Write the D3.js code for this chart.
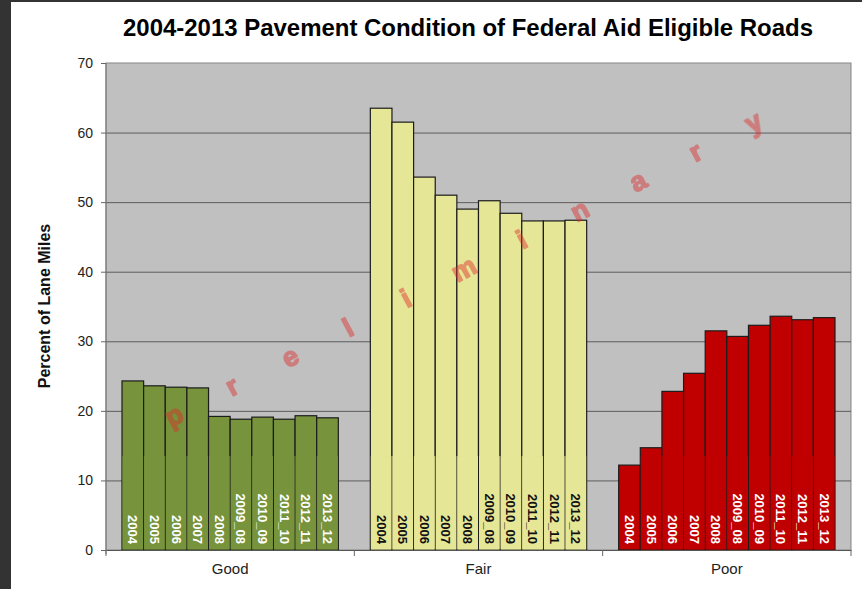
<!DOCTYPE html>
<html lang="en">
<head>
    <meta charset="UTF-8">
    <title>Pavement Condition</title>
    <script src="https://cdn.jsdelivr.net/npm/d3@7"></script>
    <style>
        body { margin:0; background:#fff; }
        text { font-family: Arial, "Liberation Sans", sans-serif; }
    </style>
</head>
<body>
<div id="grafica"></div>
<script>
// data
categorias=['Good','Fair','Poor']
anios=['2004','2005','2006','2007','2008','2009_08','2010_09','2011_10','2012_11','2013_12']
good=[24.3,23.6,23.4,23.3,19.2,18.8,19.1,18.8,19.3,19.0]
fair=[63.5,61.5,53.6,51.0,49.0,50.2,48.4,47.3,47.3,47.4]
poor=[12.2,14.7,22.8,25.4,31.5,30.7,32.3,33.6,33.1,33.4]
yTicks=[0,10,20,30,40,50,60,70]
marca='preliminary'

colores={Good:'#77933c',Fair:'#e6e697',Poor:'#c00000'}
colorTexto={Good:'#fff',Fair:'#111',Poor:'#fff'}

ancho=862
alto=589
svg=d3.select('#grafica')
	.append('svg')
	.attr('width',ancho)
	.attr('height',alto)

// dark frame bits
svg.append('rect').attr('x',0).attr('y',0).attr('width',11).attr('height',alto).attr('fill','#333')
svg.append('rect').attr('x',0).attr('y',0).attr('width',ancho).attr('height',2).attr('fill','#333')

izq=106; der=851; arriba=63; abajo=550

x0=d3.scaleBand().domain(categorias).range([izq,der]).padding(0)
x1=d3.scaleBand().domain(anios).range([16,x0.bandwidth()-16]).padding(0)
y=d3.scaleLinear().domain([0,70]).range([abajo,arriba])

// plot background
svg.append('rect')
	.attr('x',izq).attr('y',arriba)
	.attr('width',der-izq).attr('height',abajo-arriba)
	.attr('fill','#c0c0c0')
	.attr('stroke','#858585')

// gridlines
svg.append('g')
	.attr('transform','translate('+izq+',0)')
	.call(d3.axisLeft(y).tickValues(yTicks.slice(1,-1)).tickSize(-(der-izq)).tickFormat(''))
	.call(function(g){
		g.select('.domain').remove()
		g.selectAll('line').attr('stroke','#5c5c5c')
	})

// y axis
svg.append('g')
	.attr('transform','translate('+izq+',0)')
	.call(d3.axisLeft(y).tickValues(yTicks).tickSize(5).tickPadding(8))
	.call(function(g){
		g.select('.domain').attr('stroke','#777').attr('d','M0,'+arriba+'V'+(abajo+4))
		g.selectAll('line').attr('stroke','#666')
		g.selectAll('text').attr('font-size',14).attr('fill','#222').attr('font-family','Arial, Liberation Sans, sans-serif')
	})

series={Good:good,Fair:fair,Poor:poor}
datos=[]
categorias.forEach(function(c){
	series[c].forEach(function(v,i){
		datos.push({cat:c,anio:anios[i],valor:v})
	})
})

grupos=svg.append('g')
grupos.selectAll('rect.bar').data(datos).enter()
	.append('rect')
	.attr('class','bar')
	.attr('x',function(d){return x0(d.cat)+x1(d.anio)})
	.attr('y',function(d){return y(d.valor)})
	.attr('width',x1.bandwidth())
	.attr('height',function(d){return y(0)-y(d.valor)})
	.attr('fill',function(d){return colores[d.cat]})
	.attr('stroke','#1c1c1c')
	.attr('stroke-width',1.2)

// lower part of the bars, where the label box sits (thinner edges)
seam=13.5
grupos.selectAll('rect.caja').data(datos.filter(function(d){return d.valor>seam})).enter()
	.append('rect')
	.attr('class','caja')
	.attr('x',function(d){return x0(d.cat)+x1(d.anio)+0.5})
	.attr('y',y(seam))
	.attr('width',x1.bandwidth()-1)
	.attr('height',y(0)-y(seam)-0.6)
	.attr('fill',function(d){return colores[d.cat]})

grupos.selectAll('text.etq').data(datos).enter()
	.append('text')
	.attr('class','etq')
	.attr('transform',function(d){
		return 'translate('+(x0(d.cat)+x1(d.anio)+x1.bandwidth()/2)+','+(y(0)-6)+') rotate(90)'
	})
	.attr('text-anchor','end')
	.attr('dy','0.35em')
	.attr('font-size',13)
	.attr('font-weight','bold')
	.attr('fill',function(d){return colorTexto[d.cat]})
	.text(function(d){return d.anio})

// x axis
svg.append('g')
	.attr('transform','translate(0,'+abajo+')')
	.call(d3.axisBottom(x0).tickSize(0).tickPadding(13))
	.call(function(g){
		g.select('.domain').attr('stroke','#555')
		g.selectAll('text').attr('font-size',15).attr('fill','#222').attr('font-family','Arial, Liberation Sans, sans-serif')
	})
svg.append('g').selectAll('line').data(d3.range(categorias.length+1)).enter()
	.append('line')
	.attr('x1',function(i){return izq+i*x0.step()})
	.attr('x2',function(i){return izq+i*x0.step()})
	.attr('y1',abajo).attr('y2',abajo+6)
	.attr('stroke','#666')

// watermark letters along the diagonal
wx=d3.scaleLinear().domain([0,marca.length-1]).range([izq+0.092*(der-izq),izq+0.87*(der-izq)])
wy=d3.scaleLinear().domain([0,marca.length-1]).range([y(19.2),y(61.3)])
svg.append('g')
	.attr('opacity',0.45)
	.selectAll('text').data(marca.split('')).enter()
	.append('text')
	.attr('transform',function(d,i){return 'translate('+wx(i)+','+wy(i)+') rotate(-28)'})
	.attr('text-anchor','middle')
	.attr('dy','0.3em')
	.attr('font-size',27)
	.attr('font-weight','bold')
	.attr('fill','rgb(221,43,43)')
	.attr('stroke','rgb(221,43,43)')
	.attr('stroke-width',1.6)
	.attr('stroke-linejoin','round')
	.text(function(d){return d})

// titles
svg.append('text')
	.attr('x',468).attr('y',36)
	.attr('text-anchor','middle')
	.attr('font-size',23)
	.attr('font-weight','bold')
	.attr('textLength',690)
	.attr('lengthAdjust','spacingAndGlyphs')
	.text('2004-2013 Pavement Condition of Federal Aid Eligible Roads')

svg.append('text')
	.attr('transform','translate(50,306) rotate(-90)')
	.attr('text-anchor','middle')
	.attr('font-size',16)
	.attr('font-weight','bold')
	.attr('fill','#111')
	.text('Percent of Lane Miles')
</script>
</body>
</html>
